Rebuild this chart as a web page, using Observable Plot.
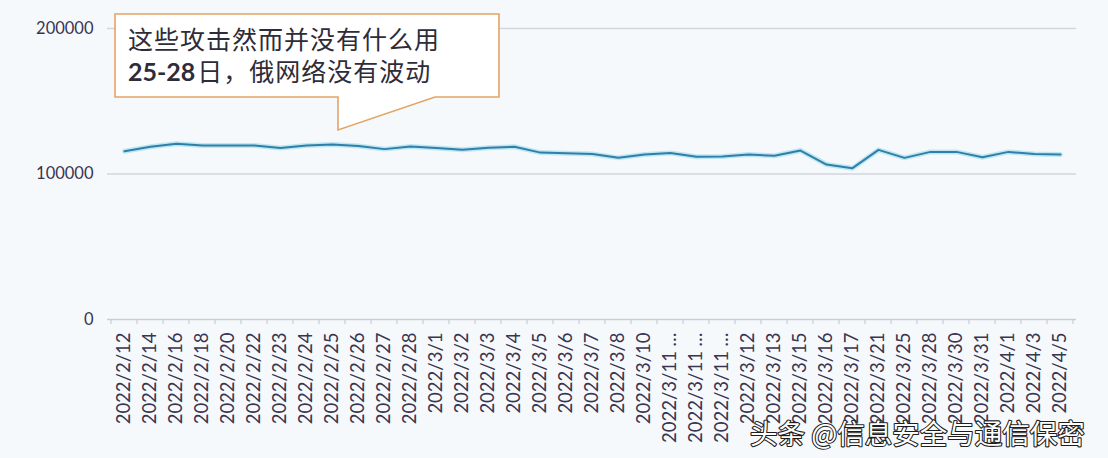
<!DOCTYPE html>
<html><head><meta charset="utf-8">
<script src="https://cdn.jsdelivr.net/npm/d3@7"></script>
<script src="https://cdn.jsdelivr.net/npm/@observablehq/plot@0.6"></script>
<style>
html,body{margin:0;padding:0;background:#f6f9fc;}
#chart{position:relative;width:1108px;height:458px;overflow:hidden;}
</style></head><body><div id="chart"></div>
<script>
const dates = ["2022/2/12","2022/2/14","2022/2/16","2022/2/18","2022/2/20","2022/2/22","2022/2/23","2022/2/24","2022/2/25","2022/2/26","2022/2/27","2022/2/28","2022/3/1","2022/3/2","2022/3/3","2022/3/4","2022/3/5","2022/3/6","2022/3/7","2022/3/8","2022/3/10","2022/3/11 …","2022/3/11 …","2022/3/11 …","2022/3/12","2022/3/13","2022/3/15","2022/3/16","2022/3/17","2022/3/21","2022/3/25","2022/3/28","2022/3/30","2022/3/31","2022/4/1","2022/4/3","2022/4/5"];
const values = [115600,118700,120800,119600,119600,119600,117800,119600,120300,119200,117100,118900,117800,116600,118000,118700,114700,114200,113800,111100,113400,114500,111800,112000,113400,112500,116100,106500,104000,116600,111100,115200,115200,111500,115200,113800,113400];
const yTicks = [0, 100000, 200000];
const calloutLine1 = "这些攻击然而并没有什么用";
const calloutLine2a = "25-28";
const calloutLine2b = "日，俄网络没有波动";
const watermark = "头条 @信息安全与通信保密";

const idx = d3.range(dates.length);
const data = idx.map(i => ({i, value: values[i]}));
const W = 1108, H = 458;
const textColor = "#3a3450";

const plot = Plot.plot({
  width: W, height: H,
  marginLeft: 107, marginRight: 32, marginTop: 28, marginBottom: 139,
  style: {background: "transparent", fontFamily: "Lato, 'Open Sans', sans-serif", overflow: "visible"},
  x: {type: "band", domain: idx, padding: 0, axis: null},
  y: {domain: [0, 200000], axis: null},
  marks: [
    Plot.gridY(yTicks.slice(1), {stroke: "#d2d5dc", strokeOpacity: 1, strokeWidth: 1.5}),
    Plot.ruleY([0], {stroke: "#c9cdd5", strokeWidth: 1.5}),
    Plot.axisX({tickFormat: i => dates[i], tickRotate: -90, tickSize: 0, tickPadding: 13, fontSize: 18.5, fill: textColor, label: null}),
    Plot.axisY(yTicks, {tickFormat: d => String(d), tickSize: 0, tickPadding: 14, fontSize: 16.5, fill: textColor, label: null}),
    Plot.line(data, {x: "i", y: "value", stroke: "#bfe6f3", strokeWidth: 5}),
    Plot.line(data, {x: "i", y: "value", stroke: "#2f80a9", strokeWidth: 2})
  ]
});
document.getElementById("chart").appendChild(plot);

// category boundary ticks, positioned with the plot's own scales
const xs = plot.scale("x"), ys = plot.scale("y");
const svg = d3.select(plot);
const y0 = ys.apply(0);
const bounds = idx.map(i => xs.apply(i)).concat([xs.apply(idx[idx.length - 1]) + xs.bandwidth]);
svg.append("g").selectAll("line").data(bounds).join("line")
  .attr("x1", d => d).attr("x2", d => d)
  .attr("y1", y0).attr("y2", y0 + 5)
  .attr("stroke", "#c9cdd5").attr("stroke-width", 1.2);

// callout annotation
const box = {l: 115, r: 499, t: 14, b: 97};
const tail = {x1: 338, x2: 435, tipX: 338, tipY: 130};
svg.append("path")
  .attr("d", `M${box.l},${box.t}H${box.r}V${box.b}H${tail.x2}L${tail.tipX},${tail.tipY}L${tail.x1},${box.b}H${box.l}Z`)
  .attr("fill", "#ffffff").attr("stroke", "#e3a464").attr("stroke-width", 1.6);
svg.append("text").attr("x", 128).attr("y", 49).attr("text-anchor", "start")
  .attr("font-family", "'Noto Sans CJK SC', sans-serif").attr("font-size", 25).attr("fill", "#2e2c38")
  .attr("letter-spacing", 1)
  .text(calloutLine1);
const t2 = svg.append("text").attr("x", 128).attr("y", 81).attr("text-anchor", "start")
  .attr("font-family", "'Noto Sans CJK SC', sans-serif").attr("font-size", 25).attr("fill", "#2e2c38");
t2.append("tspan").attr("font-family", "Lato, sans-serif").attr("font-weight", 700).text(calloutLine2a);
t2.append("tspan").attr("dx", 2).attr("letter-spacing", 1).text(calloutLine2b);

// watermark
svg.append("text").attr("x", 750).attr("y", 444).attr("text-anchor", "start")
  .attr("font-family", "'Noto Sans CJK SC', sans-serif").attr("font-size", 27.5)
  .attr("fill", "#ffffff").attr("stroke", "#1e1e1e").attr("stroke-width", 2.2)
  .attr("paint-order", "stroke").attr("stroke-linejoin", "round")
  .text(watermark);
</script></body></html>
